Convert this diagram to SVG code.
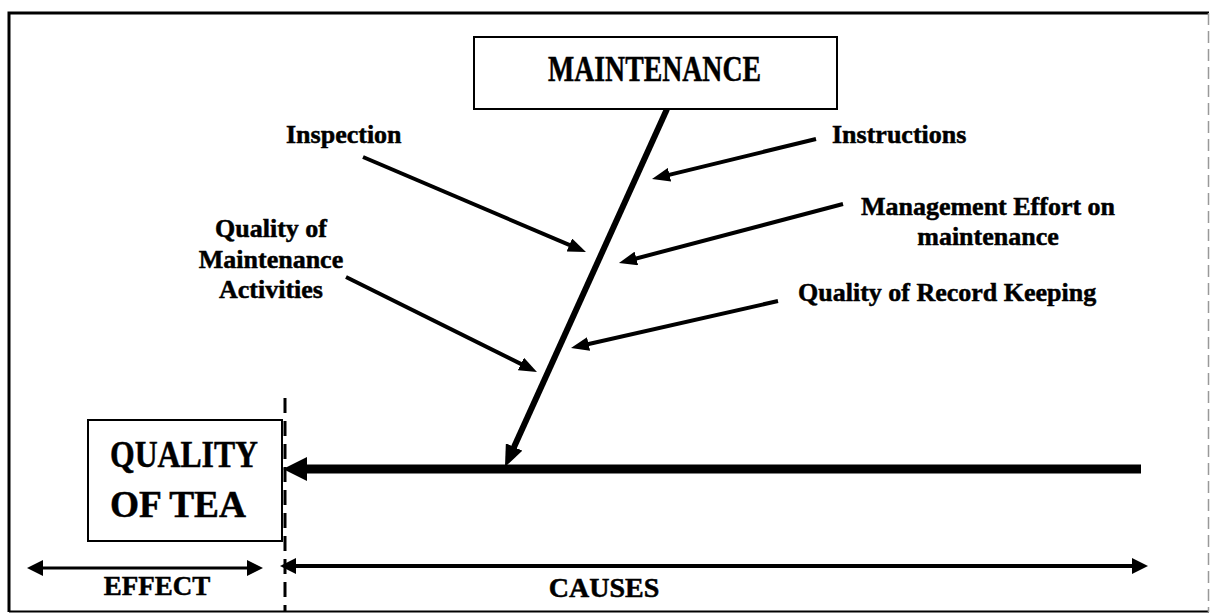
<svg xmlns="http://www.w3.org/2000/svg" width="1210" height="614" viewBox="0 0 1210 614">
  <style>
    .lbl { font-family: "Liberation Serif", "Times New Roman", serif; font-weight: bold; fill: #000; stroke: #000; stroke-width: 0.5; }
    .cause { font-size: 26px; }
    .box { fill: #fff; stroke: #000; stroke-width: 2; }
    .bone { fill: none; stroke: #000; stroke-width: 4; marker-end: url(#head-s); }
  </style>
  <defs>
    <marker id="head-s" markerUnits="userSpaceOnUse" markerWidth="18" markerHeight="14" refX="10" refY="7" orient="auto">
      <path d="M0,0 L18,7 L0,14 z" fill="#000"/>
    </marker>
    <marker id="head-spine" markerUnits="userSpaceOnUse" markerWidth="22" markerHeight="18" refX="12" refY="9" orient="auto">
      <path d="M0,0 L22,9 L0,18 z" fill="#000"/>
    </marker>
    <marker id="head-main" markerUnits="userSpaceOnUse" markerWidth="24" markerHeight="24" refX="12" refY="12" orient="auto">
      <path d="M0,0 L24,12 L0,24 z" fill="#000"/>
    </marker>
    <marker id="head-dim" markerUnits="userSpaceOnUse" markerWidth="16" markerHeight="16" refX="8" refY="8" orient="auto-start-reverse">
      <path d="M0,0 L16,8 L0,16 z" fill="#000"/>
    </marker>
  </defs>

  <!-- frame -->
  <rect x="0" y="0" width="1210" height="614" fill="#fff"/>
  <g id="frame" fill="none">
    <path d="M9,612 L9,13 L1209,13" stroke="#000" stroke-width="3"/>
    <path d="M9,611.5 L1209,611.5" stroke="#000" stroke-width="2"/>
    <path d="M1208.5,13 L1208.5,612" stroke="#999" stroke-width="1.5" stroke-dasharray="12 6"/>
  </g>

  <!-- effect / causes divider -->
  <path id="divider" d="M285,398 L285,612" stroke="#000" stroke-width="3" stroke-dasharray="15 8" fill="none"/>

  <g id="connectors">
    <!-- main spine into the effect -->
    <path d="M1141,469 L295,469" fill="none" stroke="#000" stroke-width="9" marker-end="url(#head-main)"/>
    <!-- category bone -->
    <path d="M667,109 L509.1,457.9" fill="none" stroke="#000" stroke-width="6" marker-end="url(#head-spine)"/>
    <!-- sub-causes -->
    <path class="bone" d="M363,157 L578.6,248.9"/>
    <path class="bone" d="M816,139 L659.8,177.1"/>
    <path class="bone" d="M843,204 L626.7,261.0"/>
    <path class="bone" d="M778,301 L578.8,346.2"/>
    <path class="bone" d="M346,277 L529.8,368.4"/>
    <!-- dimension arrows -->
    <path d="M35,568 L255,568" fill="none" stroke="#000" stroke-width="3" marker-start="url(#head-dim)" marker-end="url(#head-dim)"/>
    <path d="M288,566 L1140,566" fill="none" stroke="#000" stroke-width="4" marker-start="url(#head-dim)" marker-end="url(#head-dim)"/>
  </g>

  <g id="maintenance">
    <rect class="box" x="474" y="37" width="363" height="72"/>
    <text class="lbl" x="548" y="81" font-size="35" textLength="213" lengthAdjust="spacingAndGlyphs">MAINTENANCE</text>
  </g>

  <g id="quality-of-tea">
    <rect class="box" x="88" y="420" width="194" height="121"/>
    <text class="lbl" x="110" y="467" font-size="37" textLength="148" lengthAdjust="spacingAndGlyphs">QUALITY</text>
    <text class="lbl" x="110" y="517" font-size="37" textLength="136" lengthAdjust="spacingAndGlyphs">OF TEA</text>
  </g>

  <g id="inspection">
    <text class="lbl cause" x="286" y="143">Inspection</text>
  </g>
  <g id="instructions">
    <text class="lbl cause" x="832" y="143">Instructions</text>
  </g>
  <g id="management-effort">
    <text class="lbl cause" x="988" y="215" text-anchor="middle">Management Effort on</text>
    <text class="lbl cause" x="988" y="245" text-anchor="middle">maintenance</text>
  </g>
  <g id="record-keeping">
    <text class="lbl cause" x="798" y="301">Quality of Record Keeping</text>
  </g>
  <g id="maintenance-activities">
    <text class="lbl cause" x="271" y="237" text-anchor="middle">Quality of</text>
    <text class="lbl cause" x="271" y="268" text-anchor="middle">Maintenance</text>
    <text class="lbl cause" x="271" y="298" text-anchor="middle">Activities</text>
  </g>

  <g id="effect-label">
    <text class="lbl" x="157" y="595" font-size="27" text-anchor="middle">EFFECT</text>
  </g>
  <g id="causes-label">
    <text class="lbl" x="604" y="597" font-size="28" text-anchor="middle">CAUSES</text>
  </g>
</svg>
